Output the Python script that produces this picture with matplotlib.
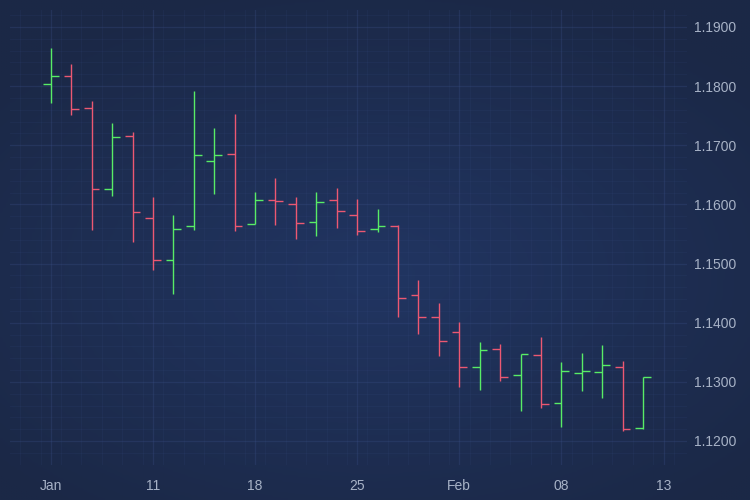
import numpy as np
import matplotlib
matplotlib.use("Agg")
from matplotlib import pyplot as plt
from matplotlib.colors import LinearSegmentedColormap

# OHLC values (30 trading days)
opens = [1.1803, 1.1817, 1.1763, 1.1626, 1.1715, 1.1577, 1.1506, 1.1563, 1.1674, 1.1685,
         1.1567, 1.1607, 1.1600, 1.1570, 1.1607, 1.1582, 1.1558, 1.1564, 1.1447, 1.1409,
         1.1384, 1.1325, 1.1355, 1.1311, 1.1345, 1.1264, 1.1315, 1.1317, 1.1325, 1.1222]
highs = [1.1864, 1.1837, 1.1775, 1.1737, 1.1723, 1.1613, 1.1582, 1.1792, 1.1729, 1.1753,
         1.1621, 1.1644, 1.1613, 1.1621, 1.1628, 1.1609, 1.1592, 1.1565, 1.1472, 1.1434,
         1.1402, 1.1368, 1.1364, 1.1347, 1.1375, 1.1333, 1.1349, 1.1363, 1.1336, 1.1309]
lows = [1.1772, 1.1752, 1.1557, 1.1614, 1.1536, 1.1489, 1.1449, 1.1557, 1.1617, 1.1555,
        1.1567, 1.1565, 1.1542, 1.1547, 1.1560, 1.1548, 1.1553, 1.1410, 1.1381, 1.1344,
        1.1291, 1.1287, 1.1302, 1.1250, 1.1255, 1.1223, 1.1284, 1.1272, 1.1217, 1.1220]
closes = [1.1817, 1.1761, 1.1626, 1.1714, 1.1587, 1.1506, 1.1558, 1.1683, 1.1683, 1.1564,
          1.1607, 1.1605, 1.1569, 1.1604, 1.1589, 1.1555, 1.1564, 1.1442, 1.1409, 1.1369,
          1.1325, 1.1354, 1.1308, 1.1347, 1.1262, 1.1318, 1.1318, 1.1328, 1.1221, 1.1309]

x_tick_pos = [0, 5, 10, 15, 20, 25, 30]
x_tick_labels = ["Jan", "11", "18", "25", "Feb", "08", "13"]
y_ticks = [1.12, 1.13, 1.14, 1.15, 1.16, 1.17, 1.18, 1.19]

up_color = "#58ec66"
down_color = "#ec5872"
text_color = "#a7b2c6"

plt.rcParams['font.family'] = ['Liberation Sans', 'DejaVu Sans']

fig = plt.figure(figsize=(7.5, 5), dpi=100, facecolor="#1c2947")

# background gradient over the whole figure
bg = fig.add_axes([0, 0, 1, 1], zorder=0)
gx, gy = np.meshgrid(np.linspace(0, 1, 300), np.linspace(0, 1, 200))
dist = np.sqrt(((gx - 0.5) / 0.9) ** 2 + ((gy - 0.55) / 0.8) ** 2)
cmap = LinearSegmentedColormap.from_list("bg", ["#213562", "#1b2846"])
bg.imshow(dist, cmap=cmap, aspect="auto", extent=[0, 1, 0, 1], vmin=0, vmax=0.75)
bg.axis("off")

ax = fig.add_axes([10 / 750, 35 / 500, 677 / 750, 455 / 500], zorder=1)
ax.patch.set_alpha(0)

n = len(opens)
idx = np.arange(n)
o = np.array(opens)
c = np.array(closes)
colors = [up_color if cc >= oo else down_color for oo, cc in zip(o, c)]

ax.vlines(idx, lows, highs, colors=colors, linewidth=1.0, zorder=3)
ax.hlines(o, idx - 0.38, idx, colors=colors, linewidth=1.0, zorder=3)
ax.hlines(c, idx, idx + 0.38, colors=colors, linewidth=1.0, zorder=3)

ax.set_xticks(x_tick_pos)
ax.set_xticklabels(x_tick_labels)
ax.set_xticks(np.arange(-1.5, 31, 1), minor=True)
ax.set_yticks(y_ticks)
ax.set_yticklabels([f"{v:.4f}" for v in y_ticks])
ax.set_yticks(np.arange(1.116, 1.193, 0.002), minor=True)

# limits set after the ticks so they are not widened
ax.set_xlim(-2.0, 31.15)
ax.set_ylim(1.11594, 1.19287)

ax.yaxis.tick_right()
ax.tick_params(axis="both", which="both", length=0, colors=text_color, labelsize=10)
ax.tick_params(axis="y", pad=5)
ax.tick_params(axis="x", pad=10)

ax.grid(True, which="major", color="#3a4f86", alpha=0.3, linewidth=0.9)
ax.grid(True, which="minor", color="#3a4f86", alpha=0.15, linewidth=0.6)
for s in ax.spines.values():
    s.set_visible(False)

fig.savefig("out.png", dpi=100, facecolor=fig.get_facecolor())
